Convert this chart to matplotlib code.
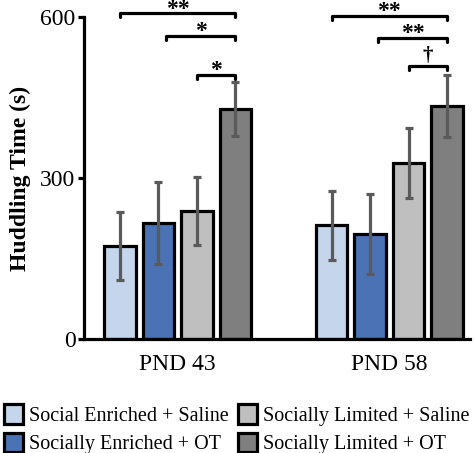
import numpy as np
import matplotlib.pyplot as plt
from matplotlib.patches import Patch

# data
groups = ["PND 43", "PND 58"]
conditions = ["Social Enriched + Saline", "Socially Enriched + OT",
              "Socially Limited + Saline", "Socially Limited + OT"]
means_43 = [173, 216, 238, 429]
means_58 = [212, 196, 328, 434]
errs_43 = [63, 76, 63, 50]
errs_58 = [64, 75, 66, 58]
colors = ["#c4d5ec", "#4a72b4", "#bfbfbf", "#7f7f7f"]

# significance brackets: (group index, bar from, bar to, y level, label)
sig_group = [0, 0, 0, 1, 1, 1]
sig_from = [0, 1, 2, 0, 1, 2]
sig_to = [3, 3, 3, 3, 3, 3]
sig_y = [607, 565, 492, 602, 561, 509]
sig_text = ["**", "*", "*", "**", "**", "\u2020"]

plt.rcParams['font.family'] = ['Liberation Serif', 'DejaVu Serif']

fig = plt.figure(figsize=(4.74, 4.53), dpi=100)
ax = fig.add_axes([0.177, 0.252, 0.815, 0.71])

offsets = [0.0, 5.5]
pos = [offsets[g] + np.arange(4) for g in range(2)]
means = [means_43, means_58]
errs = [errs_43, errs_58]

for g in range(2):
    ax.bar(pos[g], means[g], width=0.82, color=colors, edgecolor="black",
           linewidth=2.3, zorder=2)
    ax.errorbar(pos[g], means[g], yerr=errs[g], fmt="none", ecolor="#5a5a5a",
                elinewidth=2.3, capsize=3, capthick=2.3, zorder=3)

for g, a, b, y, t in zip(sig_group, sig_from, sig_to, sig_y, sig_text):
    x1 = pos[g][a] + (0.2 if a == 1 else 0)
    x2 = pos[g][b]
    ax.plot([x1, x1, x2, x2], [y - 7, y, y, y - 7], color="black", lw=2.3,
            clip_on=False, solid_capstyle="round", zorder=4)
    if t == "\u2020":
        ax.text((x1 + x2) / 2, y + 9, t, ha="center", va="baseline",
                fontsize=15, fontweight="bold", clip_on=False)
    else:
        ax.text((x1 + x2) / 2, y - 2, t, ha="center", va="baseline",
                fontsize=17, fontweight="bold", clip_on=False)

ax.set_ylim(0, 600)
ax.set_xlim(-0.935, 9.1)
ax.set_yticks([0, 300, 600])
ax.set_xticks([offsets[0] + 1.5, offsets[1] + 1.5])
ax.set_xticklabels(groups)
ax.tick_params(axis="y", labelsize=17, width=2.3, length=4, pad=2)
ax.tick_params(axis="x", labelsize=17, length=0, pad=11)
ax.set_ylabel("Huddling Time (s)", fontsize=17, fontweight="bold", labelpad=7)
for s in ["top", "right"]:
    ax.spines[s].set_visible(False)
for s in ["left", "bottom"]:
    ax.spines[s].set_linewidth(2.3)

handles = [Patch(facecolor=c, edgecolor="black", linewidth=2.3) for c in colors]
fig.legend(handles, conditions, loc="lower left", bbox_to_anchor=(0.0, -0.012),
           ncol=2, frameon=False, fontsize=14.5, handlelength=0.95,
           handleheight=1.1, handletextpad=0.3, columnspacing=0.45,
           labelspacing=0.35, borderaxespad=0.1, borderpad=0.1)

fig.savefig("out.png", dpi=100)
